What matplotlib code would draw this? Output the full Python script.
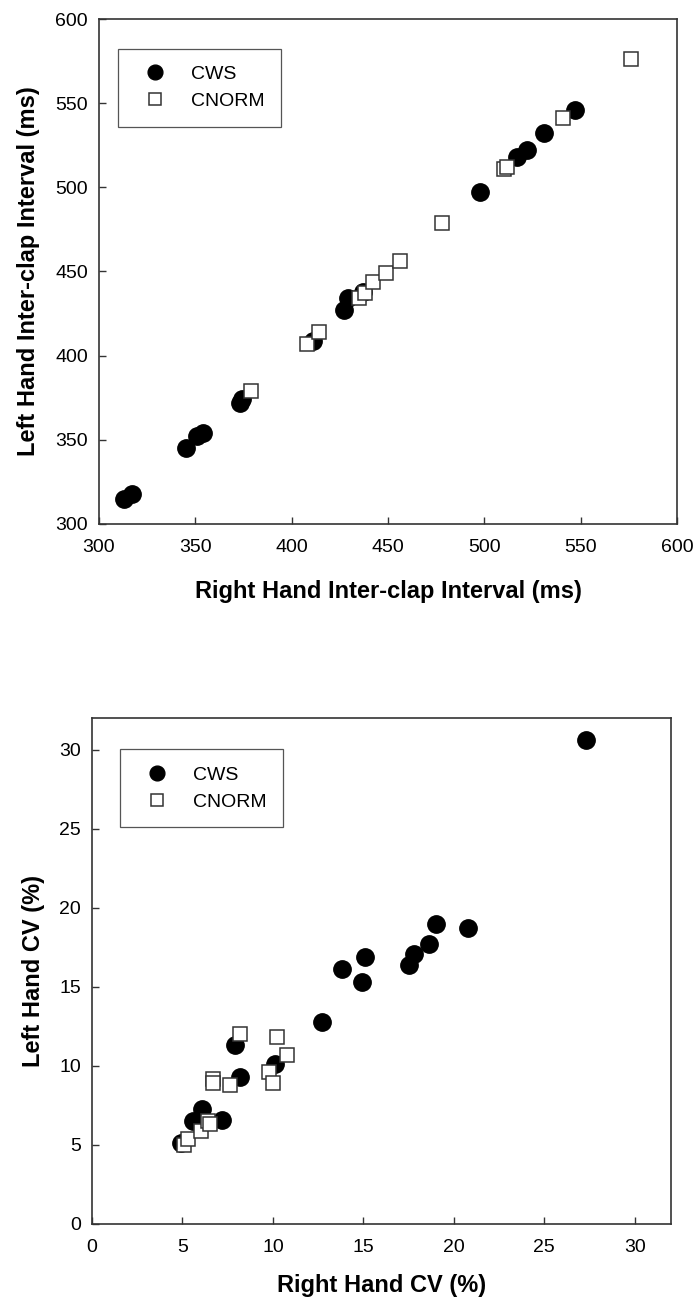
import numpy as np
import matplotlib
matplotlib.use("Agg")
import matplotlib.pyplot as plt

plt.rcParams['font.family'] = ['Liberation Sans', 'DejaVu Sans']

# top panel: inter-clap interval (ms)
cws_right_ici = [313, 317, 345, 351, 354, 373, 374, 411, 427, 429, 437, 498, 517, 522, 531, 547]
cws_left_ici = [315, 318, 345, 352, 354, 372, 374, 409, 427, 434, 438, 497, 518, 522, 532, 546]
cnorm_right_ici = [379, 408, 414, 435, 438, 442, 449, 456, 478, 510, 512, 541, 576]
cnorm_left_ici = [379, 407, 414, 434, 437, 444, 449, 456, 479, 511, 512, 541, 576]

# bottom panel: CV (%)
cws_right_cv = [4.9, 5.6, 6.1, 7.2, 7.9, 8.2, 10.1, 12.7, 13.8, 14.9, 15.1, 17.5, 17.8, 18.6, 19.0, 20.8, 27.3]
cws_left_cv = [5.1, 6.5, 7.3, 6.6, 11.3, 9.3, 10.1, 12.8, 16.1, 15.3, 16.9, 16.4, 17.1, 17.7, 19.0, 18.7, 30.6]
cnorm_right_cv = [5.1, 5.3, 6.0, 6.4, 6.5, 6.7, 6.7, 7.6, 8.2, 9.8, 10.0, 10.2, 10.8]
cnorm_left_cv = [5.0, 5.4, 5.9, 6.5, 6.3, 9.2, 8.9, 8.8, 12.0, 9.6, 8.9, 11.8, 10.7]

fig = plt.figure(figsize=(6.99, 13.07), dpi=100)
ax1 = fig.add_axes([99/699, 1-524/1307, 578/699, 505/1307])
ax2 = fig.add_axes([92/699, 1-1224/1307, 579/699, 506/1307])


def style(ax):
    for side in ['top', 'right', 'left', 'bottom']:
        ax.spines[side].set_color('#333333')
        ax.spines[side].set_linewidth(1.2)
    ax.tick_params(direction='in', length=5, width=1, color='#333333',
                   labelsize=14, top=False, right=False)
    ax.tick_params(axis='x', pad=11)
    ax.tick_params(axis='y', pad=8)


def draw(ax, xc, yc, xn, yn, anchor):
    ax.plot(xc, yc, 'o', color='black', markersize=12.5, label='CWS', zorder=3)
    ax.plot(xn, yn, 's', markerfacecolor='white', markeredgecolor='#333333',
            markeredgewidth=1.1, markersize=9.5, label='CNORM', zorder=4)
    leg = ax.legend(loc='upper left', bbox_to_anchor=anchor, fontsize=14,
                    frameon=True, fancybox=False, framealpha=1, edgecolor='#555555',
                    borderpad=0.85, handletextpad=0.8, labelspacing=0.5,
                    borderaxespad=0, markerscale=0.85, handlelength=2.1)
    leg.get_frame().set_linewidth(0.9)
    leg.legend_handles[1].set_markersize(8)


draw(ax1, cws_right_ici, cws_left_ici, cnorm_right_ici, cnorm_left_ici, (0.033, 0.941))
ax1.set_xlim(300, 600)
ax1.set_ylim(300, 600)
ax1.set_xticks(np.arange(300, 601, 50))
ax1.set_yticks(np.arange(300, 601, 50))
ax1.set_xlabel('Right Hand Inter-clap Interval (ms)', fontsize=17, fontweight='bold', labelpad=17)
ax1.set_ylabel('Left Hand Inter-clap Interval (ms)', fontsize=17, fontweight='bold', labelpad=11)
style(ax1)

draw(ax2, cws_right_cv, cws_left_cv, cnorm_right_cv, cnorm_left_cv, (0.048, 0.938))
ax2.set_xlim(0, 32)
ax2.set_ylim(0, 32)
ax2.set_xticks(np.arange(0, 31, 5))
ax2.set_yticks(np.arange(0, 31, 5))
ax2.set_xlabel('Right Hand CV (%)', fontsize=17, fontweight='bold', labelpad=13)
ax2.set_ylabel('Left Hand CV (%)', fontsize=17, fontweight='bold', labelpad=10)
style(ax2)

fig.savefig('out.png', dpi=100)
